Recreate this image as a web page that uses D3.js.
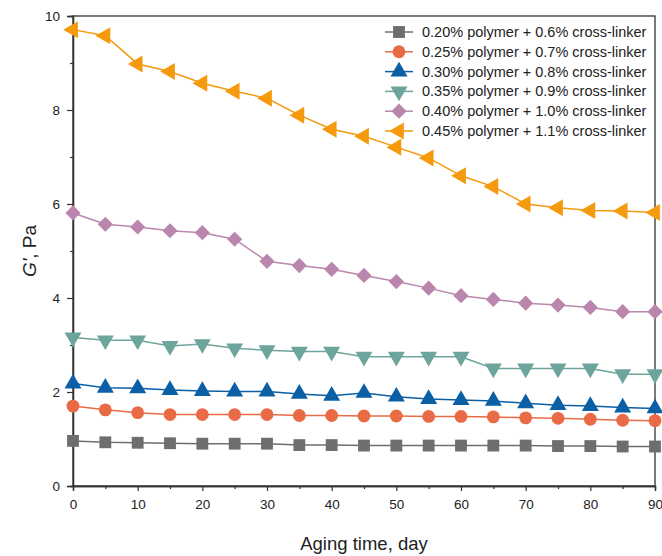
<!DOCTYPE html>
<html lang="en">
<head>
<meta charset="UTF-8">
<title>G' vs aging time</title>
<script src="https://cdn.jsdelivr.net/npm/d3@7"></script>
<style>
  body { margin: 0; background: #fff; }
  text { font-family: "Liberation Sans", Arial, sans-serif; fill: #222; }
</style>
</head>
<body>
<script>
// aging days
var days = [0, 5, 10, 15, 20, 25, 30, 35, 40, 45, 50, 55, 60, 65, 70, 75, 80, 85, 90];

var seriesNames = [
  "0.20% polymer + 0.6% cross-linker",
  "0.25% polymer + 0.7% cross-linker",
  "0.30% polymer + 0.8% cross-linker",
  "0.35% polymer + 0.9% cross-linker",
  "0.40% polymer + 1.0% cross-linker",
  "0.45% polymer + 1.1% cross-linker"
];

var g020 = [0.96, 0.93, 0.92, 0.91, 0.90, 0.90, 0.90, 0.87, 0.87, 0.86, 0.86, 0.86, 0.86, 0.86, 0.86, 0.85, 0.85, 0.84, 0.84];
var g025 = [1.70, 1.62, 1.56, 1.52, 1.52, 1.52, 1.52, 1.50, 1.50, 1.49, 1.49, 1.48, 1.48, 1.47, 1.45, 1.44, 1.42, 1.40, 1.39];
var g030 = [2.18, 2.09, 2.08, 2.04, 2.02, 2.01, 2.01, 1.96, 1.92, 1.98, 1.90, 1.85, 1.83, 1.81, 1.76, 1.72, 1.70, 1.67, 1.65];
var g035 = [3.16, 3.10, 3.10, 2.98, 3.02, 2.93, 2.89, 2.86, 2.86, 2.75, 2.75, 2.75, 2.75, 2.50, 2.50, 2.50, 2.50, 2.38, 2.38];
var g040 = [5.81, 5.57, 5.51, 5.43, 5.39, 5.25, 4.78, 4.69, 4.61, 4.48, 4.35, 4.21, 4.05, 3.97, 3.89, 3.85, 3.80, 3.71, 3.71];
var g045 = [9.71, 9.58, 8.98, 8.82, 8.57, 8.40, 8.25, 7.89, 7.59, 7.44, 7.21, 6.98, 6.60, 6.37, 6.00, 5.92, 5.86, 5.85, 5.82];

var seriesValues = [g020, g025, g030, g035, g040, g045];
var colors = ["#6e6e6e", "#e96b46", "#0b5fa5", "#6da59d", "#bb86ad", "#f59a0c"];
var shapes = ["square", "circle", "triangleUp", "triangleDown", "diamond", "triangleLeft"];

var yTicks = [0, 2, 4, 6, 8, 10];
var xTicks = [0, 10, 20, 30, 40, 50, 60, 70, 80, 90];

var width = 662, height = 556;
var margin = { left: 73, right: 7, top: 16, bottom: 70 };

var svg = d3.select("body").append("svg")
  .attr("width", width).attr("height", height);

var x = d3.scaleLinear().domain([0, 90]).range([margin.left, width - margin.right]);
var y = d3.scaleLinear().domain([0, 10]).range([height - margin.bottom, margin.top]);

// frame
svg.append("rect")
  .attr("x", x(0)).attr("y", y(10))
  .attr("width", x(90) - x(0)).attr("height", y(0) - y(10))
  .attr("fill", "none").attr("stroke", "#333").attr("stroke-width", 1.3);

// x axis
svg.append("g").attr("transform", "translate(0," + y(0) + ")")
  .call(d3.axisBottom(x).tickValues(xTicks).tickSize(5).tickPadding(8).tickFormat(d3.format("d")));
svg.append("g").attr("transform", "translate(0," + y(0) + ")")
  .call(d3.axisBottom(x).tickValues(d3.range(5, 90, 10)).tickSize(3).tickFormat(""));

// y axis
svg.append("g").attr("transform", "translate(" + x(0) + ",0)")
  .call(d3.axisLeft(y).tickValues(yTicks).tickSize(6).tickPadding(7).tickFormat(d3.format("d")));
svg.append("g").attr("transform", "translate(" + x(0) + ",0)")
  .call(d3.axisLeft(y).tickValues(d3.range(1, 10, 2)).tickSize(3).tickFormat(""));

svg.selectAll(".domain").attr("stroke", "#333").attr("stroke-width", 1.3);
svg.selectAll(".tick line").attr("stroke", "#333").attr("stroke-width", 1.2);
svg.selectAll(".tick text").style("font-size", "13.5px").attr("fill", "#222")
  .style("font-family", "'Liberation Sans', Arial, sans-serif");

// axis titles
svg.append("text")
  .attr("x", (x(0) + x(90)) / 2).attr("y", 550)
  .attr("text-anchor", "middle")
  .style("font-size", "18.5px")
  .text("Aging time, day");

var yl = svg.append("text")
  .attr("transform", "translate(36," + ((y(0) + y(10)) / 2) + ") rotate(-90)")
  .attr("text-anchor", "middle")
  .style("font-size", "19px");
yl.append("tspan").style("font-style", "italic").text("G'");
yl.append("tspan").text(", Pa");

function symbolFor(shape) {
  if (shape === "square") return d3.symbol().type(d3.symbolSquare).size(140)();
  if (shape === "circle") return d3.symbol().type(d3.symbolCircle).size(130)();
  if (shape === "diamond") return d3.symbol().type(d3.symbolSquare).size(115)();
  return d3.symbol().type(d3.symbolTriangle).size(125)();
}
function rotFor(shape) {
  if (shape === "triangleDown") return 180;
  if (shape === "triangleLeft") return -90;
  if (shape === "diamond") return 45;
  return 0;
}

var line = d3.line()
  .x(function(d) { return x(d[0]); })
  .y(function(d) { return y(d[1]); });

seriesValues.forEach(function(vals, i) {
  var pts = days.map(function(d, j) { return [d, vals[j]]; });
  var g = svg.append("g");
  g.append("path")
    .attr("d", line(pts))
    .attr("fill", "none").attr("stroke", colors[i]).attr("stroke-width", 1.5);
  g.selectAll("path.m").data(pts).enter().append("path")
    .attr("class", "m")
    .attr("d", symbolFor(shapes[i]))
    .attr("transform", function(d) {
      return "translate(" + x(d[0]) + "," + y(d[1]) + ") rotate(" + rotFor(shapes[i]) + ")";
    })
    .attr("fill", colors[i]);
});

// legend
var legend = svg.append("g").attr("transform", "translate(385,32)");
seriesNames.forEach(function(name, i) {
  var row = legend.append("g").attr("transform", "translate(0," + (i * 19.8) + ")");
  row.append("line").attr("x1", 0).attr("x2", 28).attr("y1", 0).attr("y2", 0)
    .attr("stroke", colors[i]).attr("stroke-width", 1.5);
  row.append("path")
    .attr("d", symbolFor(shapes[i]))
    .attr("transform", "translate(14,0) rotate(" + rotFor(shapes[i]) + ")")
    .attr("fill", colors[i]);
  row.append("text").attr("x", 37).attr("y", 0).attr("dy", "0.35em")
    .style("font-size", "14.5px")
    .text(name);
});
</script>
</body>
</html>
